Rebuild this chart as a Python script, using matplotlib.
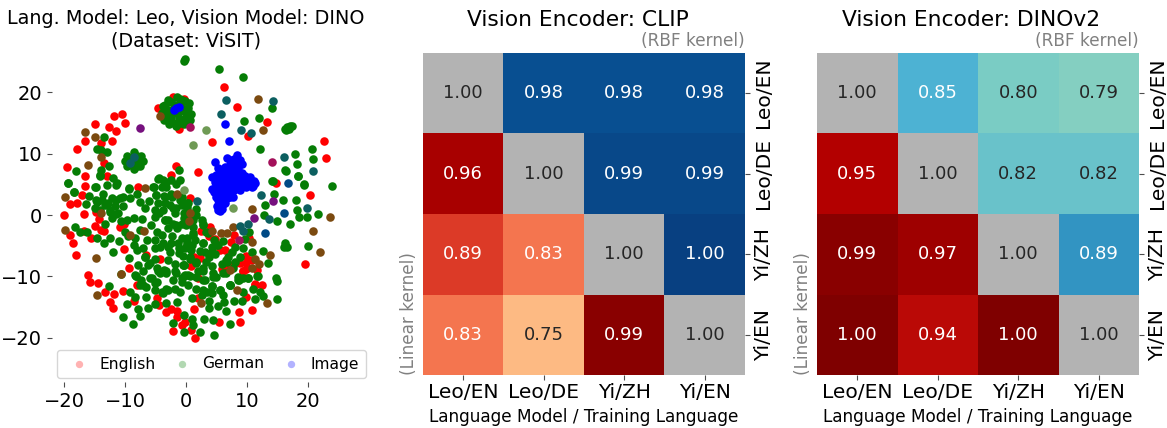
import matplotlib
matplotlib.use("Agg")
import matplotlib.pyplot as plt
import numpy as np

W, H = 1167.0, 428.0

# t-SNE points
english_pts = [
    (6.2,20.8),(8.4,17.6),(13.2,15.2),(4.2,11.9),(10.1,12.9),(22.6,12.1),(23.0,9.3),(1.9,7),(-1.7,8),(-2.5,6.5),
    (20.4,3.2),(14.7,5.2),(-11.8,16.2),(-10.5,16.5),(-14.9,14.9),(-10,15),(-12.7,14.3),(-11.5,13.7),(-16.6,12.1),
    (-14,11.8),(-12.1,12),(-17.8,10.7),(-19.5,7.8),(-16.6,6.4),(-16.6,4.8),(-17.1,3.2),(-19,1.8),(-17.8,1.9),
    (-20,0),(-16.7,.1),(-12.9,6.4),(-13.5,8.5),(-7.9,4.6),(-2.2,19.3),(-.4,18.9),(-4.6,17.4),(-1.1,14),
    (-14.8,0.5),(-14.2,-.6),(-15,-1.8),(-14,-2.5),(-13.5,-2.6),(-19,-3.2),(-18.5,-4.6),(-16.7,-2.6),(-15.5,-3.7),
    (-18,-6.5),(-10.2,-1.4),(-10.8,-2),(-10.2,-5.6),(-16.1,-9.8),(-15.7,-10.9),(-14.4,-11.1),(-13.3,-12.6),
    (-11.8,-12.9),(-10.3,-12.4),(-12.4,-14.2),(-12,-15.2),(-8.1,-11.5),(-8.6,-14.1),(-4.7,-13.6),(-4.5,-14.7),
    (-3.2,-15.8),(-2.5,-15.3),(-1.5,-15.7),(-1.4,-16.6),(1.3,-15.3),(-.1,-17.4),(-.7,-18),(-2.2,-18.9),(.9,-18.8),
    (1.4,-20),(5.4,-17.4),(8.7,-15.8),(8.8,-17.4),(10.9,-15.5),(9.8,-13.4),(11.3,-11.4),(12.4,-11.4),(2,-13.6),
    (9.4,-9.2),(11.6,-9),(2.4,-2.6),(4,-2),(.7,2.7),(1.1,-.4),(7.8,-3.3),(7.3,-4.4),(10.3,-3.8),(5.6,-5.7),(6.4,-5.7),
    (7.8,-8),(8.8,-7.9),(9.8,-6.7),(9.9,-7.8),(10.8,-7.3),(9.3,-9.1),(9.8,-8.8),(19.5,-8),(11.3,-11.2),(2.3,-7),
    (1.3,-6.9),(.9,-8.4),(2,-10.3),(5.9,-8.8),(6.6,-8.4),(-4.3,-7.1),(-6.5,-6.5),(-9.3,-8.6),(4.8,-3.9),(3.8,-3.4),
]
german_pts = [
    # upper part
    (-.4,25.2),(-.1,25.5),(5.4,23.8),(9.4,22.5),(14.1,17.4),(9.5,15.4),(11.9,15.9),(12.2,10.7),(17.9,9.9),(20.6,10.7),
    (20.9,9.1),(18.2,8.4),(16.3,7.4),(18.3,6.3),(19.3,5),(14.1,5.5),(23.9,4.7),(-13.5,12.8),(-14.6,10.8),(-12.9,10.2),
    (-13.9,10.6),(-18,7.1),(-12.6,8),(-13.9,7.3),(-14.1,6.4),(-19.4,5.2),(-18.3,3.7),(-14.8,4.6),(-13,4.9),(-11.9,6),
    (-11.3,5.3),(-9.3,4.4),(-5.4,4.6),(-4.6,5.9),(-3.7,5.7),(-1.2,7.3),(-1,5.7),(-2.4,5.7),(-3.2,4.6),(-1.7,5.1),
    (-3.9,4.6),(-4.9,3.2),(-3.5,3),(-.9,3),(-2.4,3.5),
    # left / middle
    (-19.3,5.3),(-18.3,3.8),(-16.4,1.8),(-15.9,3.1),(-14.9,4.6),(-14.1,6.5),(-14.6,2.2),(-13.8,2.4),(-14.9,1.1),
    (-13.3,1.6),(-12.2,2.7),(-10.8,2.7),(-11.4,4.9),(-9.3,4.3),(-8.1,3.4),(-9.2,2.7),(-10.3,1.4),(-11.6,1.4),
    (-12.5,.5),(-11.1,.3),(-12.2,-.5),(-13.3,-1.4),(-18.2,-2),(-17.3,-2.7),(-16.3,-2.7),(-14.6,-3.8),(-13.4,-4.6),
    (-12.4,-3.8),(-11,-4.3),(-12,-6.1),(-10,-2.7),(-9.5,-3.5),(-8.4,-3.8),(-8.6,-4.9),(-8.1,-5.7),(-9.3,-7),(-7.8,-8.2),
    (-6.2,-8.2),(-6.7,-6.8),(-5.1,-7.1),(-4.8,-8.7),(-2.9,-7.3),(-4.3,-9.5),(-5.6,-10.3),(-7.3,-10.6),(-12.6,-11.6),
    (-8.2,-10),(-8.6,-.5),(-6.7,1.1),(-5.1,.8),(-4.4,.3),(-5.8,-1.6),(-7.5,-2.4),(-4.8,-2.7),(-3.4,-.8),(-2.9,-2.2),
    (-4,-3.3),(-5.1,-4.1),(-6.4,-4.1),(-4.3,-5.2),(-2.3,-3.5),(-1.5,-2.2),(-2.1,-1.4),(-.7,-1.4),(.1,-.8),(-.4,.3),
    (-1.8,.3),(-.7,-3.8),(-1.2,-5.4),(.1,-4.9),(1,-4.9),(1.5,-4.1),(-.4,-8.2),(-1.2,-6.2),(-2.6,-6),(-5.3,4.6),(-4.5,6),
    (-3.2,5.4),(-4.9,3.3),(-3.6,3.1),(-2.3,3),(-1,2.4),(.4,1.9),(1.7,0),(-3.4,1.9),(-2.1,1.1),(-6,2.3),(-7.2,-.6),
    (-9.7,-.8),(-10.7,-1),(-7,-5.4),(-3,-5.2),(-.5,-6.7),(-3.6,-8.9),(-1.8,-8),(-1.6,-9.5),(-.2,-9.8),
    (-14.7,2.4),(-13.6,3.5),(-12.8,1.9),(-11.4,2.4),(-10.3,3),(-7.6,2.1),(-4.6,1.9),(-3.7,.8),(-2.6,1.6),(-1.6,1.1),
    (.1,1.3),(1.2,.2),(-2.9,-.8),(-5.1,-.3),(-12.5,.8),(-14.1,.8),(-11.4,.2),
    (-3.5,-.8),(-1.6,-1.6),(0,-1.6),(1.2,-.8),(2.8,-1.4),(3.6,-3),(2.8,-4.5),(1.2,-3),(.1,-4.6),(-1.3,-4.6),(-2.4,-4.6),
    (-3.7,-4.6),(-5.1,-5.4),(-6.7,-6.8),(-5.9,-7.9),(-4.6,-9.2),(-3.2,-9.2),(-1.8,-9.2),(-.5,-8.1),(.6,-7.1),(1.7,-7.6),
    (3.1,-6),(4.2,-6),(5,-4.9),(6.6,-7.3),(7.7,-8.7),(8.6,-10.1),(6.6,-9.5),(4.5,-9.5),(2.8,-8.7),(1.7,-10.1),(.4,-9.8),
    (-.7,-10.9),(-1.8,-12),(-3.2,-12),(-4,-12.5),(-5.1,-11.1),(-6.5,-11.7),(-8.4,-9.8),(-7.6,-11.4),(2.8,-12.2),(5.5,-12.2),
    (7.2,-11.4),(6.1,-13),(4.2,-12.8),(9.4,-10.3),
    # lower part
    (-10.7,-9.6),(-8.2,-9.9),(-7,-9.2),(-5.9,-10.3),(-7.1,-11.4),(-4.8,-10.9),(-3.2,-9.5),(-2.1,-10.6),(-.7,-10.2),
    (.4,-11.4),(2.8,-10.6),(1.7,-12),(-1,-12.5),(-2.9,-12.2),(-3.7,-12.8),(-5.1,-12.3),(-9.1,-12.5),(-8.4,-13.3),
    (-6.6,-13.4),(-3.3,-14.4),(-1.4,-14.2),(1,-13.6),(2.7,-13),(3.7,-14),(5.3,-14.8),(6.2,-14.2),(7.8,-14),(9.1,-14),
    (11.3,-13.7),(14.9,-13.7),(12.1,-12.5),(12.7,-13.2),(11,-12.1),(9.3,-12.5),(7.2,-11.5),(8.7,-10.6),(10.2,-10.2),
    (11.7,-10),(4.4,-10.1),(5.5,-12.3),(4.2,-11.6),(3.4,-12.5),(6.5,-15.6),(3.8,-15.2),(-7.8,-15.3),(-6.2,-15.2),
    (-5.1,-14.6),(-9.7,-14.6),(-10.3,-16.7),(-7.5,-16.5),(-8.7,-17.7),(-.3,-16.3),(1,-17),(1.2,-18),(-2.1,-17.6),
    (3,-16.9),(4.5,-17.2),(7.2,-17.8),(2.3,-19.1),(-.3,-19.1),(4.6,-19.5),
    # right part
    (16.4,7.2),(18.3,6.4),(19.4,4.9),(14.2,5.5),(14.5,3.4),(12.9,1.6),(15.9,2.4),(18,2.5),(18.2,.8),(12.8,0),(15,-.9),
    (18.5,-.4),(19.8,-.3),(21.7,.2),(17.1,-1.4),(20,-5),(16.2,-4.6),(16.6,-5.2),(16,-5.2),(12.7,-5.9),(13.5,-7.8),
    (10.9,-6.1),(9.3,-5.4),(10.4,-2.7),(9.6,-3.9),(8,-5.2),(7.5,-6),(6.9,-6.8),(6.1,-4.2),(4.6,-4),(2.8,-4.5),(5.3,-4.9),
    (4.2,-5.2),(4.8,-6.3),(3.7,-6.8),(4.3,-8.3),(5.9,-8),(8.9,-6.9),(8,-7.6),(6.7,-7.6),(2.8,-9.2),(6.1,-9.5),(4.9,-10.1),
    (8.6,-10.6),(10.2,-10.2),(11.8,-10),(14.7,-10.3),(15,-10.7),(7.2,-11.5),(4.2,-11.6),(3.1,-10.6),(1.7,-7.9),(-.3,-8.2),
    (-.4,-10),(.7,-10),(2.6,-.8),(2.8,-1.6),(1.2,-1.9),(1.2,-3.3),(.1,-3.8),(-.2,-5.4),(.9,-5.7),(-.3,-.5),(.2,.8),(1.6,.9),
    (-.7,1.6),(.1,1.9),(-.7,3),(3.3,-2.8),(2.3,-5.9),(3.2,-7.7),(.7,-6.9),(1.9,-9.1),
    # tight clusters
    (-1.5,19.2),(-3,18.8),(-.2,18.6),(-3.8,17.8),(.4,17.5),(-4,16.6),(.8,16.4),(-3.6,15.5),(.6,15.5),(-2.8,14.9),(-1.6,14.5),
    (-.4,14.9),(-2,17.5),(-1,17),(-2.4,16),(-1.2,15.8),(-3,17.2),(-.2,17),(-1.8,18),(-.8,18),(-2.6,15.2),(-.2,15.8),
    (-1.5,16.6),(-2.4,18.4),(-.6,18.8),(-3.2,16.2),(.1,16.2),(-3.4,18),(-1,15),(-2,15),(-3.6,17),(.5,18.2),(-1,19),(-2.2,17),
    (-8.5,10.2),(-9.6,9.6),(-7.4,9.6),(-10,8.8),(-7.1,8.8),(-9.6,8),(-7.5,8),(-8.6,7.5),(-8.7,9),(-8.1,8.6),(-8.9,8.2),(-8,9.6),
    (-9.2,9.2),(-8,8),(-9.1,8.8),(-8.4,9.2),
    (16.2,14),(16.6,14.3),(17,14.6),(16.9,14.1),(16.4,13.8),(17.3,14.5),
]
image_pts = [
    (8.3,9.8),(7.2,8.9),(6.4,7.8),(4.7,8.7),(5.3,7.6),(5.8,6.8),(4.2,6.2),(4.7,5.4),(4.3,4.3),(5,3),(5.5,1.9),(5.3,.8),
    (6.4,1.9),(7.7,3),(8.8,4),(9.9,4.6),(11.3,5.2),(10.5,6.2),(9.1,6.8),(8.8,8.9),(7.7,6.8),(6.6,5.7),(7.2,4.3),(8.3,5.7),
    (9.4,5.1),(5.8,4),(6.1,3),(7.1,7.6),(8.6,7.6),(10.5,5),(6.7,4.4),(7.4,6.8),(5.9,1),(6.7,2.8),(11,4.8),(8.2,8.4),
    (5,6.5),(6,6),(5.4,5),(6,5),(7,6),(8,6.5),(9,6),(7,5),(6.5,3.8),(8,4.6),(5.5,3.5),(6,7.5),(7,8),(7.8,8.8),(8,7.5),
    (9.5,5.7),(5.2,2.5),(6,1.8),(4.8,6.2),(5.2,4.2),(4.6,3.7),(7.9,9.2),(6.8,9.3),(9.2,8.4),(5.6,.7),(6.8,3.5),(7.4,3.6),
    (10.2,5.5),(11.2,5.6),(10.8,4.6),(7.5,5.6),(8.6,5),(6.4,6.6),(7.6,7.4),(8.8,6.2),(5.7,2.6),(6.2,2.4),(5.6,5.8),(4.9,4.8),
    (7.8,4),(8.4,7),(6.6,5),(7.4,8.2),(9.6,6.4),(6.2,3.4),(5.8,1.4),(6.9,6.4),(8.6,8.2),(7.2,3),(5.1,1.4),
    (6.4,14.8),(7,12),(-1.6,17.4),(-1.2,17.6),(-2,17.1),
]
# spots where several series sit on top of each other
en_de_pts = [
    (11.8,19),(12.7,13.9),(-16.6,13.6),(-15,12.7),(-14,9.4),(-16,8.2),(-19.8,3),(-6.7,4.4),(-4.3,16.1),(20.9,-2.6),(22,-6),
    (23.6,-.4),(10.9,.9),(5.7,-2.9),(7.7,-2),(4.3,-2.6),(6.8,-2.9),(10.9,-4.4),(13.7,-6.6),(12,-8),(7.2,-8.9),(11.3,-7.1),
    (10.8,-8.7),(-14.6,-13),(2.4,-14.4),(8.3,-12.2),(13.3,-14.4),(-13.9,.3),(-6.9,-2.6),(-9.2,-3.2),(-19.8,-2.5),(-14.8,-7),
    (-10.7,-9.7),(-1.5,3.4),(.5,-1),(.7,.3),
]
de_im_pts = [
    (1.8,2.3),(12.3,3.3),(19.9,1.2),(13.6,-.7),(10.1,-1.4),(8.9,-1.8),(9.3,-2.6),(20.8,7.2),(6.6,18.7),(5.7,16.4),
    (14.2,18.6),(9,13.9),(10.6,13.4),(16.1,9.5),(-8.6,9.5),(-9.2,8.5),
]
navy_pts = [(16.7,5.3),(16.1,.3),(13,-3)]
en_im_pts = [(14.2,2.3),(11.2,-.5),(-7.6,14.2)]
crimson_pts = [(8.7,-4.1),(14.1,8.6),(.6,14.3)]
pale_pts = [(7.7,1.2),(3.3,13.9),(1.2,11.5),(-.3,4.1)]

# similarity matrices
models = ["Leo/EN", "Leo/DE", "Yi/ZH", "Yi/EN"]
clip_vals = [[1.00, 0.98, 0.98, 0.98],
             [0.96, 1.00, 0.99, 0.99],
             [0.89, 0.83, 1.00, 1.00],
             [0.83, 0.75, 0.99, 1.00]]
dino_vals = [[1.00, 0.85, 0.80, 0.79],
             [0.95, 1.00, 0.82, 0.82],
             [0.99, 0.97, 1.00, 0.89],
             [1.00, 0.94, 1.00, 1.00]]

fig = plt.figure(figsize=(W / 100, H / 100), dpi=100)


def add_ax(x0, y0, x1, y1):
    return fig.add_axes([x0 / W, 1 - y1 / H, (x1 - x0) / W, (y1 - y0) / H])


def lum(c):
    r = [v / 12.92 if v <= 0.03928 else ((v + 0.055) / 1.055) ** 2.4 for v in c[:3]]
    return 0.2126 * r[0] + 0.7152 * r[1] + 0.0722 * r[2]


def heatmap(ax, vals, title):
    vals = np.array(vals)
    up_cmap = plt.get_cmap("GnBu")
    lo_cmap = plt.get_cmap("OrRd")
    for i in range(4):
        for j in range(4):
            v = vals[i, j]
            n = (v - 0.6) / 0.4
            if i == j:
                col = (0.7, 0.7, 0.7, 1)
            elif j > i:
                col = up_cmap(n)
            else:
                col = lo_cmap(n)
            ax.add_patch(plt.Rectangle((j, i), 1, 1, color=col, lw=0))
            ax.text(j + .5, i + .5, "%.2f" % v, ha="center", va="center", fontsize=13,
                    color=".15" if lum(col) > .408 else "w")
    ax.set_xlim(0, 4)
    ax.set_ylim(4, 0)
    ax.set_xticks(np.arange(4) + .5)
    ax.set_xticklabels(models, fontsize=14.6)
    ax.set_yticks(np.arange(4) + .5)
    ax.set_yticklabels(models, fontsize=14.6, rotation=90, va="center")
    ax.yaxis.tick_right()
    ax.tick_params(axis="x", color=".3", pad=2.5)
    ax.tick_params(axis="y", color=".3", pad=3)
    for s in ax.spines.values():
        s.set_visible(False)
    ax.set_xlabel("Language Model / Training Language", fontsize=12.2, labelpad=4)
    ax.set_title(title, fontsize=15.7, pad=19.5, x=0.48)
    ax.text(1.0, 1.008, "(RBF kernel)", transform=ax.transAxes, ha="right", va="bottom",
            fontsize=12.2, color="gray")
    ax.text(-0.015, 0.0, "(Linear kernel)", transform=ax.transAxes, ha="right", va="bottom",
            rotation=90, fontsize=12.2, color="gray")


# t-SNE panel
ax = add_ax(52, 50, 340, 382)
ax.set_xlim((52 - 186) / 6.1, (340 - 186) / 6.1)
ax.set_ylim((215 - 382) / 6.13, (215 - 50) / 6.13)
for pts, col in [(english_pts, "#ff0000"), (german_pts, "#057d05"), (image_pts, "#0000ff"),
                 (en_de_pts, "#7b4a10"), (de_im_pts, "#0c5f60"), (navy_pts, "#004a85"),
                 (en_im_pts, "#76107e"), (crimson_pts, "#a3105a"), (pale_pts, "#6f9a55")]:
    p = np.array(pts)
    ax.scatter(p[:, 0], p[:, 1], s=38, c=col, linewidths=0)
for s in ax.spines.values():
    s.set_visible(False)
ax.set_xticks([-20, -10, 0, 10, 20])
ax.set_yticks([-20, -10, 0, 10, 20])
ax.tick_params(labelsize=14, color=".3")
ax.set_title("Lang. Model: Leo, Vision Model: DINO\n(Dataset: ViSIT)", fontsize=13.8, pad=1, x=(186 - 52) / 288.0)
h = [ax.scatter([], [], s=28, c=c, alpha=.3, linewidths=0) for c in ["red", "green", "blue"]]
fig.legend(h, ["English", "German", "Image"], ncol=3, fontsize=11.2, loc="center",
           bbox_to_anchor=(211.5 / W, 1 - 364 / H), columnspacing=.7, handletextpad=.3, borderpad=.4)

heatmap(add_ax(423, 53, 745, 375), clip_vals, "Vision Encoder: CLIP")
heatmap(add_ax(817, 53, 1139, 375), dino_vals, "Vision Encoder: DINOv2")

fig.savefig("out.png", dpi=100)
